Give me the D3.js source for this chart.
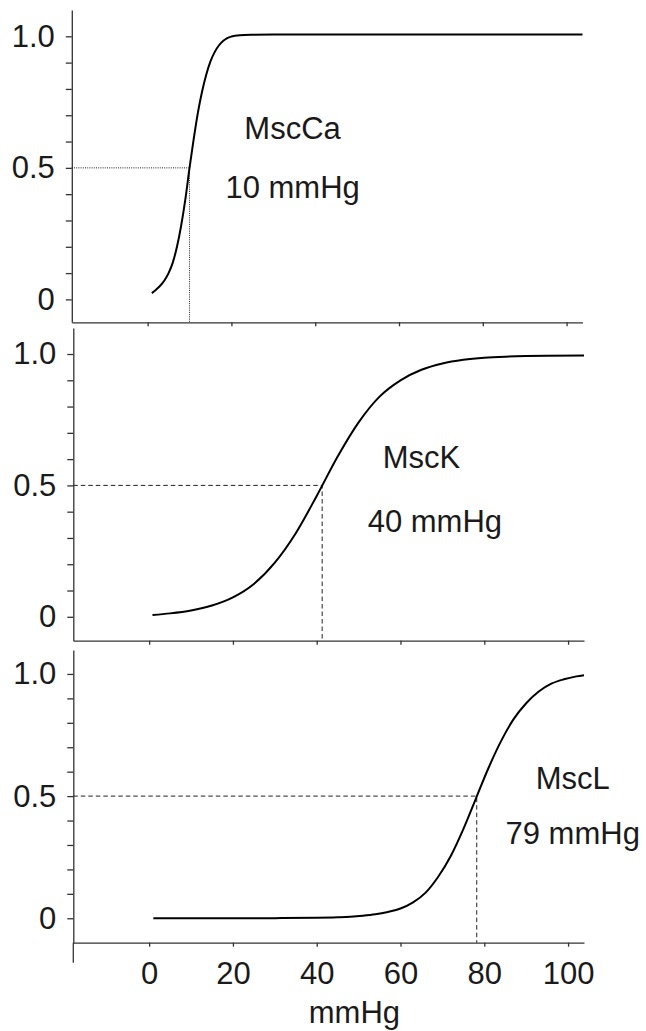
<!DOCTYPE html>
<meta charset="utf-8">
<style>
  body { margin: 0; background: #fff; }
  text { font-family: "Liberation Sans", Arial, sans-serif; fill: #1a1a1a; }
  .axis path, .axis line { stroke: #333; stroke-width: 1.3px; }
  .axis text { font-size: 31px; fill: #1a1a1a; }
  .curve { fill: none; stroke: #000; stroke-width: 2px; }
  .ref { fill: none; stroke: #222; stroke-width: 1px; }
  .note { font-size: 31px; text-anchor: middle; }
</style>
<svg width="646" height="1031"></svg>
<script src="https://d3js.org/d3.v7.min.js"></script>
<script>
  // values (pressure in mmHg, open probability)
  var channels = ["MscCa", "MscK", "MscL"];
  var halfLabels = ["10 mmHg", "40 mmHg", "79 mmHg"];
  var halfPressure = [10, 41.3, 78.2];

  var pressureCa = [1, 2, 3, 4, 5, 6, 7, 8, 9, 10, 11, 12, 13, 14, 15, 16, 17, 18, 19, 20, 22, 25, 30, 103.8];
  var openCa = [0.024, 0.037, 0.052, 0.072, 0.1, 0.14, 0.2, 0.28, 0.38, 0.5, 0.61, 0.71, 0.79, 0.855, 0.905, 0.94, 0.965, 0.982, 0.993, 0.999, 1.004, 1.006, 1.007, 1.007];

  var pressureK = [0.8, 5, 10, 15, 20, 25, 30, 35, 40, 45, 50, 55, 60, 65, 70, 75, 80, 85, 90, 95, 103.8];
  var openK = [0.007, 0.013, 0.024, 0.043, 0.074, 0.125, 0.206, 0.318, 0.46, 0.61, 0.74, 0.838, 0.9, 0.94, 0.964, 0.978, 0.986, 0.99, 0.992, 0.993, 0.994];

  var pressureL = [1, 20, 30, 40, 45, 48, 51, 54, 57, 60, 63, 66, 69, 72, 75, 78, 81, 84, 87, 90, 93, 96, 99, 102, 103.8];
  var openL = [0, 0, 0.0005, 0.002, 0.004, 0.006, 0.01, 0.016, 0.026, 0.04, 0.065, 0.105, 0.17, 0.255, 0.365, 0.49, 0.615, 0.725, 0.815, 0.88, 0.928, 0.96, 0.978, 0.99, 0.995];

  var xTicks = [0, 20, 40, 60, 80, 100];
  var yTicks = [0, 0.1, 0.2, 0.3, 0.4, 0.5, 0.6, 0.7, 0.8, 0.9, 1.0];
  var yMajor = [0, 0.5, 1.0];
  var yMajorLabels = ["0", "0.5", "1.0"];
  var xTitle = "mmHg";

  var series = [
    { p: pressureCa, v: openCa },
    { p: pressureK, v: openK },
    { p: pressureL, v: openL }
  ];

  // layout of the three stacked panels
  var layout = [
    { top: 10, bottom: 322.3, yMin: -0.087, yMax: 1.1, dx: -1.5, dash: "1,1.2", noteX: [34.6, 34.6], noteY: [0.609, 0.385] },
    { top: 328, bottom: 640.7, yMin: -0.091, yMax: 1.099, dx: 0, dash: "4.5,3", noteX: [65.0, 68.2], noteY: [0.565, 0.324] },
    { top: 650, bottom: 942.7, yMin: -0.1, yMax: 1.098, dx: 0, dash: "4.5,3", noteX: [101.1, 101.1], noteY: [0.528, 0.303] }
  ];

  var svg = d3.select("svg");

  var x = d3.scaleLinear()
    .domain([-18.1, 103.8])
    .range([73.3, 584]);

  var line = d3.line()
    .curve(d3.curveMonotoneX);

  layout.forEach(function (L, i) {
    var y = d3.scaleLinear()
      .domain([L.yMin, L.yMax])
      .range([L.bottom, L.top]);

    var g = svg.append("g")
      .attr("transform", "translate(" + L.dx + ",0)");

    // y axis
    g.append("g")
      .attr("class", "axis")
      .attr("transform", "translate(" + x.range()[0] + ",0)")
      .call(d3.axisLeft(y)
        .tickValues(yTicks)
        .tickSize(6)
        .tickSizeOuter(0)
        .tickPadding(11)
        .tickFormat(function (d) {
          var k = yMajor.findIndex(function (m) { return Math.abs(m - d) < 1e-9; });
          return k >= 0 ? yMajorLabels[k] : "";
        }));

    // x axis
    var xAxis = d3.axisBottom(x)
      .tickValues(xTicks)
      .tickSize(4)
      .tickSizeOuter(0)
      .tickPadding(15);
    if (i < 2) xAxis.tickFormat("");
    g.append("g")
      .attr("class", "axis")
      .attr("transform", "translate(0," + L.bottom + ")")
      .call(xAxis);

    // bottom panel: y axis runs on below the x axis
    if (i === 2) {
      g.append("line")
        .attr("x1", x.range()[0]).attr("x2", x.range()[0])
        .attr("y1", L.bottom).attr("y2", L.bottom + 20)
        .attr("stroke", "#333").attr("stroke-width", 1.3);
    }

    // half-activation guides
    var h = halfPressure[i];
    g.append("path")
      .attr("class", "ref")
      .attr("stroke-dasharray", L.dash)
      .attr("d", "M" + x.range()[0] + "," + y(0.5) + "H" + x(h) + "V" + L.bottom);

    // curve
    var pts = series[i].p.map(function (p, j) { return [x(p), y(series[i].v[j])]; });
    g.append("path")
      .attr("class", "curve")
      .attr("d", line(pts));

    // annotations
    g.append("text")
      .attr("class", "note")
      .attr("x", x(L.noteX[0]))
      .attr("y", y(L.noteY[0]))
      .text(channels[i]);
    g.append("text")
      .attr("class", "note")
      .attr("x", x(L.noteX[1]))
      .attr("y", y(L.noteY[1]))
      .text(halfLabels[i]);
  });

  svg.append("text")
    .attr("x", x(49))
    .attr("y", 1023)
    .attr("text-anchor", "middle")
    .style("font-size", "31px")
    .text(xTitle);
</script>
